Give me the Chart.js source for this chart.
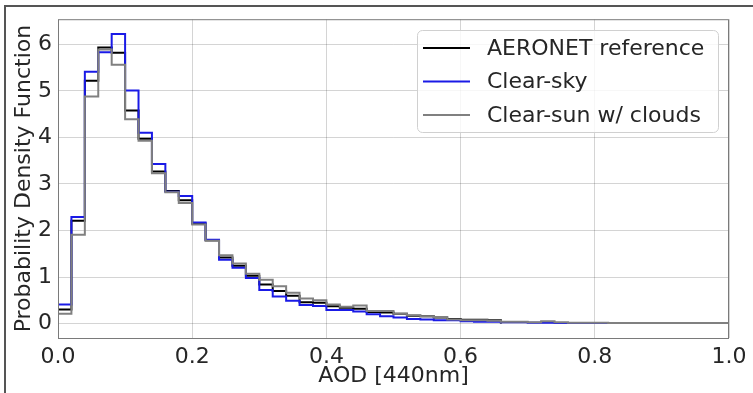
<!DOCTYPE html>
<html>
<head>
<meta charset="utf-8">
<script src="https://cdn.jsdelivr.net/npm/chart.js@4/dist/chart.umd.min.js"></script>
<style>
  html, body { margin: 0; padding: 0; background: #fff; }
  #wrap { width: 753px; height: 393px; position: relative; }
</style>
</head>
<body>
<div id="wrap"><canvas id="pdfChart" width="753" height="393"></canvas></div>
<script>
// Histogram bins of AOD at 440 nm, width 0.02 starting at 0.0
const BIN_WIDTH = 0.02;
const X_TICKS = [0.0, 0.2, 0.4, 0.6, 0.8, 1.0];
const Y_TICKS = [0, 1, 2, 3, 4, 5, 6];

const aeronetPdf = [
  0.30, 2.21, 5.22, 5.93, 5.82, 4.58, 3.97, 3.27, 2.85, 2.65,
  2.15, 1.79, 1.42, 1.24, 1.03, 0.84, 0.70, 0.60, 0.46, 0.45,
  0.37, 0.34, 0.32, 0.25, 0.24, 0.21, 0.17, 0.16, 0.13, 0.10,
  0.08, 0.08, 0.07
];
const clearSkyPdf = [
  0.41, 2.29, 5.41, 5.83, 6.22, 5.01, 4.10, 3.43, 2.83, 2.74,
  2.17, 1.80, 1.37, 1.20, 0.98, 0.72, 0.58, 0.49, 0.40, 0.38,
  0.29, 0.29, 0.26, 0.20, 0.16, 0.13, 0.10, 0.09, 0.07, 0.07,
  0.05, 0.04, 0.04, 0.03, 0.03, 0.02, 0.02, 0.01, 0.01, 0.01,
  0.01
];
const clearSunPdf = [
  0.21, 1.91, 4.88, 5.89, 5.56, 4.39, 3.93, 3.23, 2.82, 2.59,
  2.13, 1.78, 1.47, 1.29, 1.07, 0.94, 0.80, 0.66, 0.54, 0.50,
  0.41, 0.36, 0.39, 0.27, 0.27, 0.21, 0.18, 0.16, 0.14, 0.09,
  0.07, 0.07, 0.06, 0.04, 0.04, 0.03, 0.05, 0.03, 0.02, 0.02,
  0.02, 0.01, 0.01, 0.01, 0.01, 0.01, 0.01, 0.01, 0.01, 0.01
];

const FONT = "'DejaVu Sans', 'Liberation Sans', sans-serif";
const TEXT_COLOR = '#262626';

// step outline like a histtype='step' histogram: rise from 0, hold each bin, drop to 0
function stepOutline(values) {
  const pts = [{ x: 0, y: 0 }];
  values.forEach((v, i) => pts.push({ x: i * BIN_WIDTH, y: v }));
  pts.push({ x: values.length * BIN_WIDTH, y: 0 });
  return pts;
}

function stepDataset(label, values, color, order) {
  return {
    label: label,
    data: stepOutline(values),
    borderColor: color,
    borderWidth: 2,
    stepped: true,
    pointRadius: 0,
    fill: false,
    order: order
  };
}

// frame around the page plus the four plot spines
const framePlugin = {
  id: 'frame',
  beforeDraw(chart) {
    const ctx = chart.ctx;
    ctx.save();
    ctx.strokeStyle = '#555';
    ctx.lineWidth = 2;
    ctx.beginPath();
    ctx.moveTo(5, chart.height);
    ctx.lineTo(5, 6);
    ctx.lineTo(chart.width, 6);
    ctx.stroke();
    ctx.restore();
  },
  afterDatasetsDraw(chart) {
    const { ctx, chartArea: a } = chart;
    ctx.save();
    ctx.strokeStyle = '#7a7a7a';
    ctx.lineWidth = 1;
    ctx.strokeRect(a.left + 0.5, a.top + 0.5, a.right - a.left - 1, a.bottom - a.top);
    ctx.restore();
  }
};

// legend box in the upper right corner of the axes
const legendBoxPlugin = {
  id: 'legendBox',
  afterDraw(chart) {
    const ctx = chart.ctx;
    const box = { x: 417, y: 30, w: 301, h: 102, r: 5 };
    ctx.save();
    ctx.beginPath();
    ctx.roundRect(box.x + 0.5, box.y + 0.5, box.w, box.h, box.r);
    ctx.fillStyle = 'rgba(255,255,255,0.8)';
    ctx.fill();
    ctx.strokeStyle = '#d0d0d0';
    ctx.lineWidth = 1;
    ctx.stroke();

    ctx.font = '22px ' + FONT;
    ctx.textBaseline = 'middle';
    ctx.fillStyle = TEXT_COLOR;
    chart.data.datasets.forEach((ds, i) => {
      const y = box.y + 18 + i * 33.5;
      ctx.beginPath();
      ctx.strokeStyle = ds.borderColor;
      ctx.lineWidth = 2;
      ctx.moveTo(box.x + 6, y);
      ctx.lineTo(box.x + 53, y);
      ctx.stroke();
      ctx.fillText(ds.label, box.x + 70, y + 1);
    });
    ctx.restore();
  }
};

new Chart(document.getElementById('pdfChart'), {
  type: 'line',
  data: {
    datasets: [
      stepDataset('AERONET reference', aeronetPdf, '#000000', 3),
      stepDataset('Clear-sky', clearSkyPdf, '#1a1ae6', 2),
      stepDataset('Clear-sun w/ clouds', clearSunPdf, '#808080', 1)
    ]
  },
  options: {
    responsive: false,
    animation: false,
    layout: { padding: { left: 0, top: 19, right: 24, bottom: 0 } },
    plugins: {
      legend: { display: false },
      tooltip: { enabled: false }
    },
    scales: {
      x: {
        type: 'linear',
        min: 0,
        max: 1,
        afterFit(scale) { scale.height = 55; },
        afterBuildTicks(scale) { scale.ticks = X_TICKS.map(v => ({ value: v })); },
        grid: { color: 'rgba(0,0,0,0.17)', drawTicks: false },
        border: { display: false },
        ticks: {
          padding: 6,
          color: TEXT_COLOR,
          font: { family: FONT, size: 22 },
          callback: v => v.toFixed(1)
        },
        title: {
          display: true,
          text: 'AOD [440nm]',
          color: TEXT_COLOR,
          font: { family: FONT, size: 22 },
          padding: { top: 0, bottom: 4 }
        }
      },
      y: {
        type: 'linear',
        min: -0.31,
        max: 6.54,
        afterFit(scale) { scale.width = 58; },
        afterBuildTicks(scale) { scale.ticks = Y_TICKS.map(v => ({ value: v })); },
        grid: { color: 'rgba(0,0,0,0.17)', drawTicks: false },
        border: { display: false },
        ticks: {
          padding: 6,
          color: TEXT_COLOR,
          font: { family: FONT, size: 22 },
          callback: v => String(v)
        },
        title: {
          display: true,
          text: 'Probability Density Function',
          color: TEXT_COLOR,
          font: { family: FONT, size: 22 },
          padding: { top: 11, bottom: 0 }
        }
      }
    }
  },
  plugins: [framePlugin, legendBoxPlugin]
});
</script>
</body>
</html>
